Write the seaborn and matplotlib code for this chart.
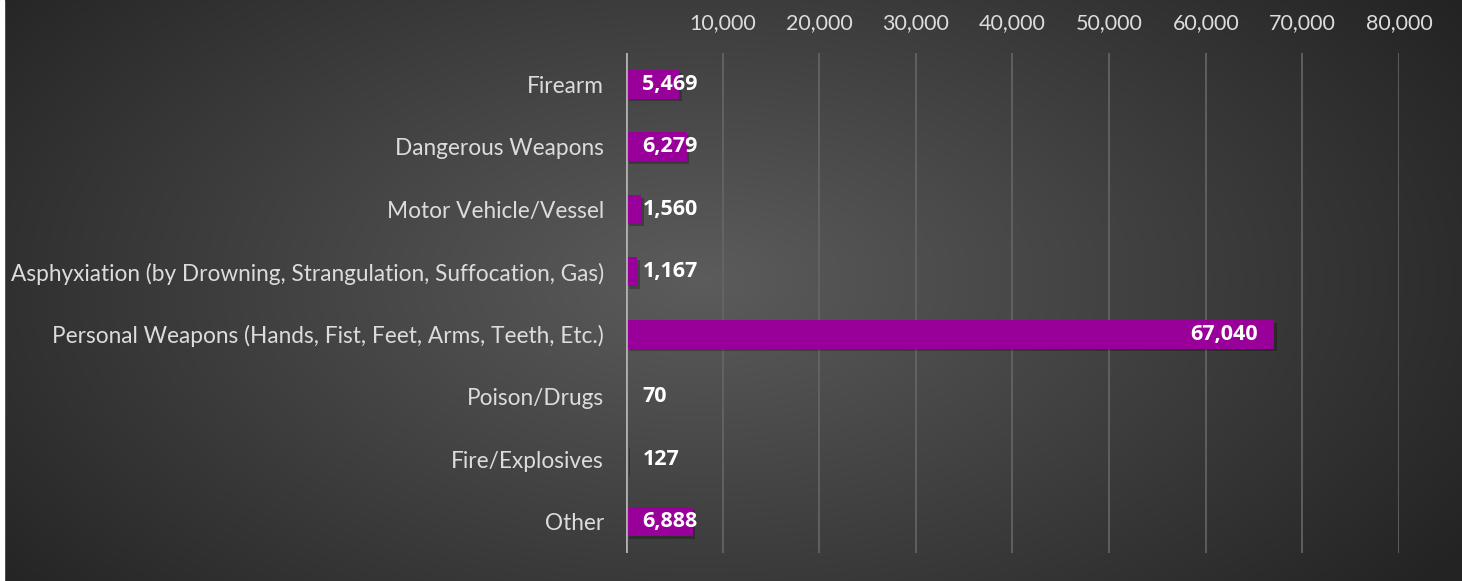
import numpy as np
import pandas as pd
import matplotlib.pyplot as plt
import matplotlib.patheffects as pe
from matplotlib.ticker import FuncFormatter
import seaborn as sns

categories = ['Firearm', 'Dangerous Weapons', 'Motor Vehicle/Vessel',
              'Asphyxiation (by Drowning, Strangulation, Suffocation, Gas)',
              'Personal Weapons (Hands, Fist, Feet, Arms, Teeth, Etc.)',
              'Poison/Drugs', 'Fire/Explosives', 'Other']
counts = [5469, 6279, 1560, 1167, 67040, 70, 127, 6888]
tick_values = [10000, 20000, 30000, 40000, 50000, 60000, 70000, 80000]

df = pd.DataFrame({'weapon': categories, 'count': counts})

sns.set_style('white')
plt.rcParams['font.family'] = ['Lato', 'DejaVu Sans']

fig = plt.figure(figsize=(14.62, 5.81), dpi=100)

# radial dark gradient background
bg = fig.add_axes([0, 0, 1, 1], zorder=-10)
yy, xx = np.mgrid[0:581, 0:1462]
r = np.sqrt(((xx - 700) / 900.0) ** 2 + ((yy - 280) / 500.0) ** 2)
shade = np.clip(0.36 - 0.22 * r, 0.14, 0.36)
bg.imshow(np.dstack([shade] * 3), aspect='auto', extent=[0, 1462, 581, 0])
bg.axvspan(0, 4, color='white')
bg.set_xlim(0, 1462)
bg.set_ylim(581, 0)
bg.axis('off')

ax = fig.add_axes([626 / 1462, 1 - 553 / 581, (1399 - 626) / 1462, 500 / 581])
ax.patch.set_alpha(0)
sns.barplot(data=df, x='count', y='weapon', color='#990099', saturation=1,
            width=0.46, linewidth=0, ax=ax, zorder=3)
for p in ax.patches:
    p.set_path_effects([pe.SimplePatchShadow(offset=(2, -2), alpha=0.25, shadow_rgbFace='black'),
                        pe.Normal()])

ax.set_xlim(0, 80000)
ax.set_ylim(7.5, -0.5)
ax.xaxis.tick_top()
ax.set_xticks(tick_values)
ax.xaxis.set_major_formatter(FuncFormatter(lambda v, _: f'{int(v):,}'))
ax.tick_params(axis='both', length=0, colors='#dcdcdc')
ax.tick_params(axis='x', pad=14, labelsize=15.5)
ax.tick_params(axis='y', pad=16, labelsize=16.3)
ax.set_xlabel('')
ax.set_ylabel('')
for s in ax.spines.values():
    s.set_visible(False)
ax.grid(axis='x', color='#666666', linewidth=1.2, zorder=0)
ax.axvline(0, color='#b0b0b0', linewidth=2, zorder=4)

for i, v in enumerate(counts):
    if v > 40000:
        ax.text(v - 1600, i, f'{v:,}', ha='right', va='center', color='white',
                fontsize=15.5, fontweight='bold', family='Open Sans', zorder=5)
    else:
        ax.text(1700, i, f'{v:,}', ha='left', va='center', color='white',
                fontsize=15.5, fontweight='bold', family='Open Sans', zorder=5)

fig.savefig('out.png', dpi=100)
